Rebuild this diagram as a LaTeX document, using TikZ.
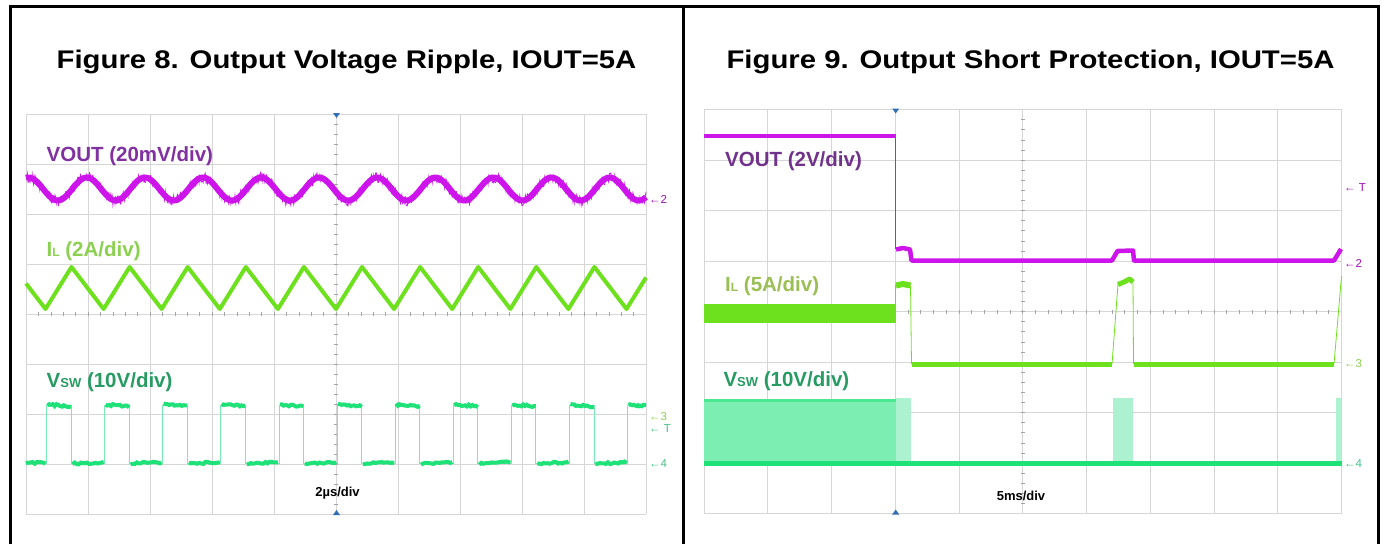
\documentclass[tikz,border=0pt]{standalone}
\usepackage{fontspec}
\setmainfont{Liberation Sans}
\newfontfamily\titlefont{Liberation Sans}[FakeStretch=1.15]
\usetikzlibrary{positioning}

\definecolor{gridgray}{RGB}{214,214,214}
\definecolor{tickgray}{RGB}{165,165,165}
\definecolor{trigblue}{RGB}{50,110,180}
\definecolor{voutpink}{RGB}{204,20,235}
\definecolor{voutlabel}{RGB}{128,48,160}
\definecolor{voutdark}{RGB}{112,50,138}
\definecolor{ilgreen}{RGB}{110,225,30}
\definecolor{illabel}{RGB}{140,208,80}
\definecolor{iloliv}{RGB}{155,190,85}
\definecolor{swgreen}{RGB}{30,225,120}
\definecolor{swthin}{RGB}{120,235,180}
\definecolor{swfill}{RGB}{125,238,178}
\definecolor{swpale}{RGB}{172,242,208}
\definecolor{swlabel}{RGB}{40,155,100}
\definecolor{swmark}{RGB}{70,195,135}

\begin{document}
\begin{tikzpicture}[x=1pt,y=-1pt,
    frameline/.style={line width=3pt},
    gridline/.style={draw=gridgray, line width=0.9pt},
    tickline/.style={draw=tickgray, line width=0.6pt},
    titletext/.style={font=\titlefont\bfseries\fontsize{25.5}{30}\selectfont, anchor=base, inner sep=0pt},
    tracelabel/.style={font=\bfseries\fontsize{20.5}{24}\selectfont, anchor=base west, inner sep=0pt},
    divtext/.style={font=\bfseries\fontsize{13}{15}\selectfont, anchor=base, inner sep=0pt},
    chmark/.style={font=\fontsize{11.5}{13}\selectfont, anchor=west, inner sep=0pt},
    thicktrace/.style={line width=4.5pt, line join=round},
    thinedge/.style={line width=0.8pt}]
        \useasboundingbox (0,0) rectangle (1384,544);
        \pgfmathsetseed{42}

        % Frame
        \draw[frameline] (10,544) -- (10,6) -- (1378,6) -- (1378,544);
        \draw[frameline] (683,6) -- (683,544);

        % Nodes
        \node[titletext] (title8) at (346.5,68) {Figure 8. Output Voltage Ripple, IOUT=5A};
        \node[titletext] (title9) at (1030.5,68) {Figure 9. Output Short Protection, IOUT=5A};

        % Grid, figure 8
        \foreach \i in {0,...,10}
            \draw[gridline] ({26+62*\i},114) -- ({26+62*\i},514);
        \foreach \j in {0,...,8}
            \draw[gridline] (26,{114+50*\j}) -- (646,{114+50*\j});
        \foreach \t in {1,...,39}
            \draw[tickline] (334,{114+10*\t}) -- (338,{114+10*\t});
        \foreach \t in {1,...,49}
            \draw[tickline] ({26+12.4*\t},312) -- ({26+12.4*\t},316);
        \fill[trigblue] (333,113) -- (340,113) -- (336.5,118) -- cycle;
        \fill[trigblue] (333,515) -- (340,515) -- (336.5,510) -- cycle;

        % Grid, figure 9
        \foreach \i in {0,...,10}
            \draw[gridline] ({704+63.75*\i},109.5) -- ({704+63.75*\i},513.5);
        \foreach \j in {0,...,8}
            \draw[gridline] (704,{109.5+50.5*\j}) -- (1341.5,{109.5+50.5*\j});
        \foreach \t in {1,...,39}
            \draw[tickline] (1020.75,{109.5+10.1*\t}) -- (1024.75,{109.5+10.1*\t});
        \foreach \t in {1,...,49}
            \draw[tickline] ({704+12.75*\t},309.5) -- ({704+12.75*\t},313.5);
        \fill[trigblue] (892.2,108.5) -- (899.2,108.5) -- (895.7,113.5) -- cycle;
        \fill[trigblue] (892.2,514.5) -- (899.2,514.5) -- (895.7,509.5) -- cycle;

        % Traces, figure 8
        \draw[voutpink, line width=6pt, line join=round] plot[domain=26:646, samples=400, smooth]
            (\x, {189 - 11.5*sin(((\x-72.2)/58.1)*360)});
        \draw[voutpink, line width=0.7pt] plot[domain=26:646, samples=900]
            (\x, {189 - 11.5*sin(((\x-72.2)/58.1)*360) + 5.5*rand});
        \draw[ilgreen, line width=4pt, line join=round] (26,283.5)
            foreach \k in {0,...,9} { -- ({45.5+58.1*\k},309) -- ({71.5+58.1*\k},267) }
            -- (626.5,309) -- (646,277.5);
        \draw[swthin, thinedge] (26,463)
            foreach \k in {0,...,9} { -- ({46.5+58.1*\k},463) -- ({46.5+58.1*\k},405)
                                      -- ({71+58.1*\k},405) -- ({71+58.1*\k},463) }
            -- (627.5,463) -- (627.5,405) -- (646,405);
        \foreach \k in {0,...,10} {
            \draw[swgreen, line width=4pt] plot[domain={47.5+58.1*\k}:{min(71+58.1*\k,646)}, samples=14]
                (\x, {404.5 + 0.08*(\x-47.5-58.1*\k) + 1.1*rand});
        }
        \draw[swgreen, line width=4pt] plot[domain=26:45.5, samples=10] (\x, {463 + 1.1*rand});
        \foreach \k in {0,...,9} {
            \draw[swgreen, line width=4pt] plot[domain={72.5+58.1*\k}:{45.5+58.1*(\k+1)}, samples=16]
                (\x, {463.5 - 0.04*(\x-72.5-58.1*\k) + 1.1*rand});
        }

        % Labels, figure 8
        \node[tracelabel, voutlabel] (vout8) at (46.5,161) {VOUT (20mV/div)};
        \node[tracelabel, illabel] (il8) at (46.5,256.7) {I{\fontsize{12}{12}\selectfont L} (2A/div)};
        \node[tracelabel, swlabel] (vsw8) at (46.5,387.3) {V{\fontsize{13}{13}\selectfont SW} (10V/div)};
        \node[divtext] (scale8) at (337.5,496.7) {2µs/div};
        \node[chmark, voutpink!80!black] (m8two) at (649,199) {←2};
        \node[chmark, illabel] (m8three) at (649,416.5) {←3};
        \node[chmark, swmark, below=4pt of m8three.south west, anchor=north west] (m8trig) {← T};
        \node[chmark, swmark] (m8four) at (649,464) {←4};

        % Traces, figure 9
        \fill[swfill] (704,400.7) rectangle (895.7,463);
        \draw[swgreen!80!white, line width=2.5pt] (704,400.7) -- (895.7,400.7);
        \fill[swpale] (895.7,398.3) rectangle (911,463);
        \fill[swpale] (1112.7,398.3) rectangle (1133.3,463);
        \fill[swpale] (1335.5,398.3) rectangle (1341,463);
        \draw[swgreen, line width=5pt] (704,463) -- (1341.5,463);

        \fill[ilgreen] (704,303.5) rectangle (895.7,322.5);
        \draw[ilgreen, thinedge] (895.7,303.5) -- (895.7,285);
        \draw[ilgreen, line width=6pt] (896,285.5) -- (903,284) -- (910.5,285.5);
        \draw[ilgreen, thinedge] (910.5,285.5) -- (911.5,364);
        \draw[ilgreen, line width=5pt] (911.5,364) -- (1112,364);
        \draw[ilgreen, thinedge] (1112,364) -- (1118,284);
        \draw[ilgreen, line width=5pt, line join=round] (1118,284.5) -- (1124,282) -- (1129.5,279) -- (1133,282);
        \draw[ilgreen, thinedge] (1133,282) -- (1133.5,364);
        \draw[ilgreen, line width=5pt] (1133.5,364) -- (1334,364);
        \draw[ilgreen, thinedge] (1334,364) -- (1341.5,276);

        \draw[voutpink, line width=4pt] (704,135.7) -- (895.7,135.7);
        \draw[voutpink, thinedge] (895.7,135.7) -- (895.7,249);
        \draw[voutpink, thicktrace] (896,249.5) -- (903,248) -- (910,249.5) -- (911.5,260.5)
            -- (1112,260.5) -- (1117.5,251) -- (1133,250.5) -- (1134,260.5)
            -- (1334,260.5) -- (1341,249);

        % Labels, figure 9
        \node[tracelabel, voutdark] (vout9) at (725,166) {VOUT (2V/div)};
        \node[tracelabel, iloliv] (il9) at (725,291.7) {I{\fontsize{12}{12}\selectfont L} (5A/div)};
        \node[tracelabel, swlabel] (vsw9) at (723.3,386.7) {V{\fontsize{13}{13}\selectfont SW} (10V/div)};
        \node[divtext] (scale9) at (1021,500) {5ms/div};
        \node[chmark, voutpink!80!black] (m9trig) at (1344,188) {← T};
        \node[chmark, voutpink!80!black] (m9two) at (1344,263) {←2};
        \node[chmark, illabel] (m9three) at (1344,364) {←3};
        \node[chmark, swmark] (m9four) at (1344,464) {←4};
    \end{tikzpicture}
\end{document}
